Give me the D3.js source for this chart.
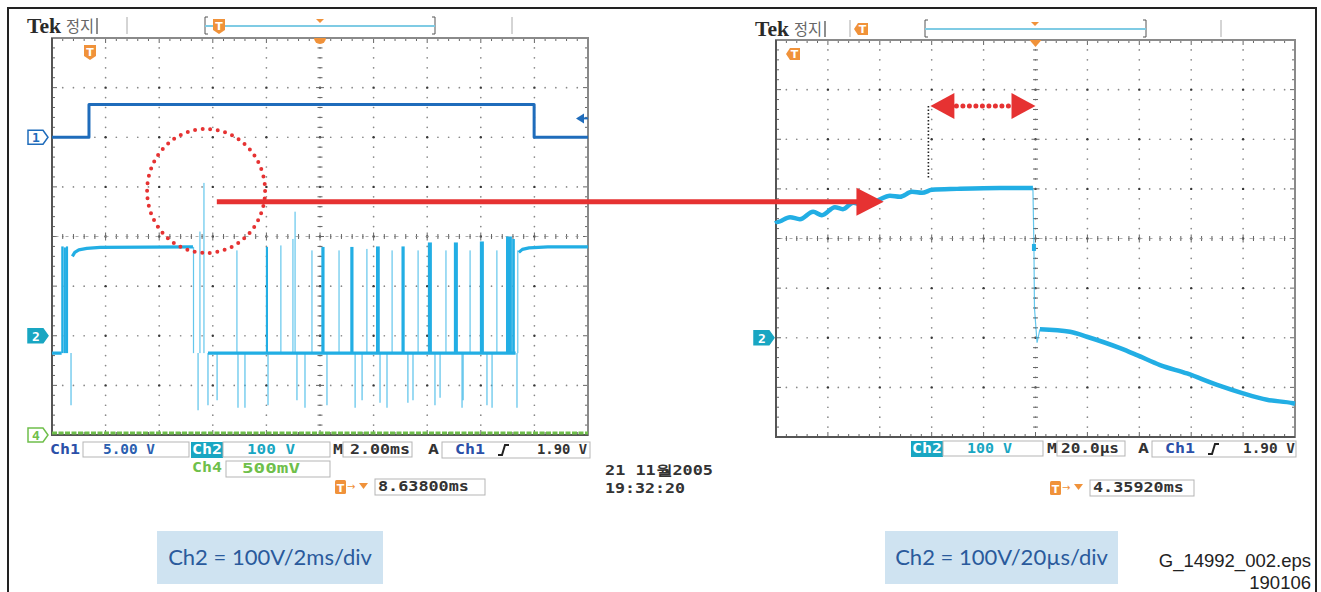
<!DOCTYPE html>
<html><head><meta charset="utf-8">
<script src="https://cdn.jsdelivr.net/npm/d3@7"></script>
<style>
body{margin:0;background:#fff;}
svg{display:block;}
</style></head><body>
<svg id="c" width="1321" height="592"></svg>
<script>
// ================= DATA =================
// Left scope (time in ms, 2 ms/div)
const ch1Time  = [0, 1.38, 1.38, 17.99, 17.99, 20];
const ch1Volts = [0, 0, 3.3, 3.3, 0, 0];
const ch4Time  = [0, 20];
const ch4Volts = [0.02, 0.02];
// Ch2 steady levels (null = gap)
const ch2BaseTime  = [0, 0.36, null, 0.76, 0.85, 1.0, 1.3, 1.8, 5.26, null, 5.82, 17.3, null, 17.42, 17.55, 17.8, 18.5, 20];
const ch2BaseVolts = [-35, -35, null, 160, 168, 173, 176, 178, 179, null, -35, -35, null, 168, 174, 177, 179, 179];
// Ch2 switching pulses (time ms, top V, width ms; 0 = thin ringing line)
const ch2PulseTime  = [0.39, 0.48, 0.56, 5.28, 5.52, 5.67, 6.90, 8.02, 8.54, 8.99, 9.07, 9.70, 10.11, 10.71, 11.19, 11.75, 12.16, 12.69, 13.10, 13.66, 14.10, 14.70, 15.07, 15.60, 16.04, 16.60, 17.05, 17.22, 17.38];
const ch2PulseTop   = [180, 178, 180, 179, 210, 308, 172, 179, 182, 195, 250, 172, 179, 172, 179, 175, 180, 172, 180, 172, 188, 172, 188, 172, 190, 172, 200, 195, 172];
const ch2PulseWidth = [0.09, 0.08, 0.08, 0, 0, 0, 0, 0.08, 0, 0, 0, 0, 0.12, 0, 0.12, 0, 0.14, 0, 0.12, 0, 0.15, 0, 0.15, 0, 0.15, 0, 0.22, 0.1, 0];
// Ch2 negative ringing spikes (time ms, bottom V)
const ch2SpikeTime  = [0.71, 5.45, 5.82, 6.16, 6.94, 7.20, 8.06, 9.14, 9.44, 10.26, 11.31, 11.57, 12.24, 12.50, 13.28, 13.47, 14.29, 14.48, 15.30, 15.34, 16.23, 16.42, 17.35];
const ch2SpikeVolts = [-140, -150, -140, -130, -145, -145, -140, -130, -145, -140, -145, -130, -135, -145, -135, -130, -140, -125, -145, -130, -140, -145, -145];

// Right scope (time in µs, 20 µs/div)
const zoomPreTime   = [0, 0.4, 5.4, 9.2, 14.3, 17.7, 22.7, 25.8, 29.7, 33.5, 38.9, 43.9, 47.8, 52.4, 56.3, 60.1, 69.8, 86.3, 99.0];
const zoomPreVolts  = [236, 233, 243, 239, 254, 247, 263, 259, 272, 268, 276, 286, 284, 294, 292, 298, 300, 302, 302];
const zoomDropTime  = [99.0, 99.4, 99.6, 100.6, 101.7];
const zoomDropVolts = [302, 183, 60, -10, 17];
const zoomPostTime  = [101.7, 113.3, 119.8, 132.6, 139.1, 148.0, 158.4, 170.0, 180.0, 189.2, 199.2, 200];
const zoomPostVolts = [17, 12, 2, -21, -35, -55, -72, -95, -112, -125, -132, -133];

// Readout texts
const leftReadout  = {ch1: "5.00 V", ch2: "100 V", ch4: "500mV", time: "2.00ms", trig: "1.90 V", delay: "8.63800ms"};
const rightReadout = {ch2: "100 V", time: "20.0µs", trig: "1.90 V", delay: "4.35920ms"};
const labels = ["Ch2 = 100V/2ms/div", "Ch2 = 100V/20µs/div"];

// ================= DRAW =================
const svg = d3.select("#c");
const C1 = "#1f6cbb", C2 = "#22aee4", C4 = "#6fbf4b", OR = "#f0923a", RED = "#e63232", TEAL = "#19a6c2";
const MONO = "'DejaVu Sans Mono', monospace";

// outer frame
svg.append("path").attr("d", "M8,600 V8 H1316 V600").attr("fill", "none").attr("stroke", "#222").attr("stroke-width", 2);

function scope(x0, x1, y0, y1) {
  const xd = d3.scaleLinear().domain([0, 10]).range([x0, x1]);
  const yd = d3.scaleLinear().domain([-4, 4]).range([y1, y0]);
  const g = svg.append("g");
  const dots = [];
  for (let i = 1; i < 10; i++) for (let j = 1; j < 40; j++) dots.push([xd(i), yd(-4 + j / 5), j % 5 === 0]);
  for (let k = -3; k <= 3; k++) for (let m = 1; m < 50; m++) if (m % 5) dots.push([xd(m / 5), yd(k), false]);
  g.selectAll(".d").data(dots).enter().append("circle")
    .attr("cx", d => d[0]).attr("cy", d => d[1]).attr("r", d => d[2] ? 1.2 : 0.85)
    .attr("fill", d => d[2] ? "#333" : "#888");
  const tk = [];
  for (let m = 1; m < 50; m++) tk.push([xd(m / 5), yd(0) - (m % 5 ? 2.5 : 4), xd(m / 5), yd(0) + (m % 5 ? 2.5 : 4)]);
  for (let j = 1; j < 40; j++) tk.push([xd(5) - (j % 5 ? 2.5 : 4), yd(-4 + j / 5), xd(5) + (j % 5 ? 2.5 : 4), yd(-4 + j / 5)]);
  for (let m = 1; m < 50; m++) { tk.push([xd(m / 5), y0, xd(m / 5), y0 + (m % 5 ? 3 : 5)]); tk.push([xd(m / 5), y1, xd(m / 5), y1 - (m % 5 ? 3 : 5)]); }
  for (let j = 1; j < 40; j++) { tk.push([x0, yd(-4 + j / 5), x0 + (j % 5 ? 3 : 5), yd(-4 + j / 5)]); tk.push([x1, yd(-4 + j / 5), x1 - (j % 5 ? 3 : 5), yd(-4 + j / 5)]); }
  g.selectAll(".t").data(tk).enter().append("line")
    .attr("x1", d => d[0]).attr("y1", d => d[1]).attr("x2", d => d[2]).attr("y2", d => d[3])
    .attr("stroke", "#666").attr("stroke-width", 1);
  g.append("line").attr("x1", x0).attr("x2", x1).attr("y1", yd(0)).attr("y2", yd(0))
    .attr("stroke", "#999").attr("stroke-width", 0.8).attr("stroke-dasharray", "3,7").attr("stroke-dashoffset", -3.5);
  g.append("rect").attr("x", x0).attr("y", y0).attr("width", x1 - x0).attr("height", y1 - y0)
    .attr("fill", "none").attr("stroke", "#8a8a8a").attr("stroke-width", 2);
  g.append("path").attr("d", `M${x0},${y0} V${y1} H${x1}`).attr("fill", "none").attr("stroke", "#555").attr("stroke-width", 2);
  return {xd, yd};
}

// ---------- left scope ----------
const L = scope(52, 588, 38, 435);
const xL = d3.scaleLinear().domain([0, 20]).range([52, 588]);
const y1 = d3.scaleLinear().domain([-30, 10]).range([435, 38]);
const y2 = d3.scaleLinear().domain([-200, 600]).range([435, 38]);
const y4 = d3.scaleLinear().domain([0, 4]).range([435, 38]);

const lineL = (ys) => d3.line().defined(d => d[0] !== null).x(d => xL(d[0])).y(d => ys(d[1]));
svg.append("path").datum(ch4Time.map((t, i) => [t, ch4Volts[i]]))
  .attr("d", lineL(y4)).attr("fill", "none").attr("stroke", C4).attr("stroke-width", 3.2).attr("stroke-dasharray", "5,1.5");
svg.append("path").datum(ch1Time.map((t, i) => [t, ch1Volts[i]]))
  .attr("d", lineL(y1)).attr("fill", "none").attr("stroke", C1).attr("stroke-width", 3).attr("stroke-linejoin", "round");
svg.append("g").selectAll("line").data(ch2SpikeTime.map((t, i) => [t, ch2SpikeVolts[i]])).enter().append("line")
  .attr("x1", d => xL(d[0])).attr("x2", d => xL(d[0])).attr("y1", y2(-35)).attr("y2", d => y2(d[1]))
  .attr("stroke", C2).attr("stroke-width", 1.2).attr("opacity", 0.75);
svg.append("g").selectAll("rect").data(ch2PulseTime.map((t, i) => [t, ch2PulseTop[i], ch2PulseWidth[i]])).enter().append("rect")
  .attr("x", d => d[2] ? xL(d[0] - d[2] / 2) : xL(d[0]) - 0.6)
  .attr("width", d => d[2] ? xL(d[2]) - xL(0) : 1.2)
  .attr("y", d => y2(d[1])).attr("height", d => y2(-35) - y2(d[1]))
  .attr("fill", C2).attr("opacity", d => d[2] ? 1 : 0.7);
svg.append("path").datum(ch2BaseTime.map((t, i) => [t, ch2BaseVolts[i]]))
  .attr("d", lineL(y2)).attr("fill", "none").attr("stroke", C2).attr("stroke-width", 3.2).attr("stroke-linejoin", "round");

// ---------- right scope ----------
const R = scope(776, 1295, 40, 437);
const xR = d3.scaleLinear().domain([0, 200]).range([776, 1295]);
const yR = d3.scaleLinear().domain([-200, 600]).range([437, 40]);
const lineR = d3.line().x(d => xR(d[0])).y(d => yR(d[1])).curve(d3.curveMonotoneX);
const lineRs = d3.line().x(d => xR(d[0])).y(d => yR(d[1]));
svg.append("path").datum(zoomDropTime.map((t, i) => [t, zoomDropVolts[i]]))
  .attr("d", lineRs).attr("fill", "none").attr("stroke", C2).attr("stroke-width", 1.2).attr("opacity", 0.7);
svg.append("rect").attr("x", xR(zoomDropTime[1]) - 2).attr("y", yR(zoomDropVolts[1]) - 3).attr("width", 4).attr("height", 7).attr("fill", C2);
svg.append("path").datum(zoomPreTime.map((t, i) => [t, zoomPreVolts[i]]))
  .attr("d", lineR).attr("fill", "none").attr("stroke", C2).attr("stroke-width", 4.5).attr("stroke-linejoin", "round");
svg.append("path").datum(zoomPostTime.map((t, i) => [t, zoomPostVolts[i]]))
  .attr("d", lineR).attr("fill", "none").attr("stroke", C2).attr("stroke-width", 4.5).attr("stroke-linejoin", "round");

// ---------- headers ----------
function tIcon(x, y, pointLeft) {
  const g = svg.append("g").attr("transform", `translate(${x},${y})`);
  if (pointLeft) g.append("path").attr("d", "M-4,0 L0,-6 H10 V6 H0 Z").attr("fill", OR);
  else g.append("path").attr("d", "M-6,-7 H6 V4 L0,8 L-6,4 Z").attr("fill", OR);
  g.append("text").attr("x", pointLeft ? 4.5 : 0).attr("y", 4).attr("text-anchor", "middle")
    .attr("font-family", "DejaVu Sans").attr("font-weight", "bold").attr("font-size", 11).attr("fill", "#fff").text("T");
}
function header(x, y, lineX1, brX0, brX1, trigX, iconX, iconLeft, sep2) {
  svg.append("text").attr("x", x).attr("y", y).attr("font-family", "Liberation Serif").attr("font-weight", "bold")
    .attr("font-size", 21).attr("fill", "#2a2a2a").attr("textLength", 34).attr("lengthAdjust", "spacingAndGlyphs").text("Tek");
  svg.append("text").attr("x", x + 39).attr("y", y - 1).attr("font-family", "Noto Sans CJK KR").attr("font-size", 16)
    .attr("fill", "#666").attr("textLength", 28).attr("lengthAdjust", "spacingAndGlyphs").text("정지");
  svg.append("line").attr("x1", x + 70).attr("x2", x + 70).attr("y1", y - 15).attr("y2", y + 1).attr("stroke", "#444").attr("stroke-width", 1.2);
  svg.append("line").attr("x1", lineX1).attr("x2", lineX1).attr("y1", y - 16).attr("y2", y + 1).attr("stroke", "#aaa");
  svg.append("line").attr("x1", sep2).attr("x2", sep2).attr("y1", y - 16).attr("y2", y + 1).attr("stroke", "#aaa");
  svg.append("path").attr("d", `M${brX0 + 3},${y - 16} H${brX0} V${y + 1} H${brX0 + 3}`).attr("fill", "none").attr("stroke", "#555");
  svg.append("path").attr("d", `M${brX1 - 3},${y - 16} H${brX1} V${y + 1} H${brX1 - 3}`).attr("fill", "none").attr("stroke", "#555");
  svg.append("line").attr("x1", brX0).attr("x2", brX1).attr("y1", y - 7).attr("y2", y - 7).attr("stroke", "#7fcbe4").attr("stroke-width", 2);
  svg.append("path").attr("d", `M${trigX - 4},${y - 14} H${trigX + 4} L${trigX},${y - 10} Z`).attr("fill", OR);
  tIcon(iconX, y - 7, iconLeft);
}
header(27, 33, 127, 205, 435, 320, 219, false, 512);
header(755, 36, 850, 925, 1146, 1035, 858, true, 1221);
svg.append("path").attr("d", `M${xL(10) - 6},38 A6,6 0 0 0 ${xL(10) + 6},38 Z`).attr("fill", OR);
svg.append("path").attr("d", `M${xR(100) - 6},40 L${xR(100) + 6},40 L${xR(100)},47 Z`).attr("fill", OR);
tIcon(90, 52, false);
tIcon(790, 54, true);

function chMarker(x, y, label, color, filled) {
  const g = svg.append("g").attr("transform", `translate(${x},${y})`);
  g.append("path").attr("d", "M0,-7 H15 L20,0 L15,7 H0 Z").attr("fill", filled ? color : "#fff")
    .attr("stroke", color).attr("stroke-width", 1.5);
  g.append("text").attr("x", 8).attr("y", 5).attr("text-anchor", "middle").attr("font-family", MONO)
    .attr("font-weight", "bold").attr("font-size", 13).attr("fill", filled ? "#fff" : color).text(label);
}
chMarker(28, y1(0), "1", C1, false);
chMarker(28, y2(0), "2", TEAL, true);
chMarker(28, y4(0), "4", C4, false);
chMarker(754, yR(0), "2", TEAL, true);
svg.append("path").attr("d", `M576,${y1(1.9)} L584,${y1(1.9) - 5} V${y1(1.9) + 5} Z`).attr("fill", C1);
svg.append("line").attr("x1", 582).attr("x2", 588).attr("y1", y1(1.9)).attr("y2", y1(1.9)).attr("stroke", C1).attr("stroke-width", 2);

// ---------- readouts ----------
function box(x, y, w, h) { svg.append("rect").attr("x", x).attr("y", y).attr("width", w).attr("height", h).attr("fill", "#fff").attr("stroke", "#b5b5b5"); }
function t(x, y, s, col, len, anchor) {
  const e = svg.append("text").attr("x", x).attr("y", y).attr("font-family", MONO).attr("font-weight", "bold")
    .attr("font-size", 14).attr("fill", col).attr("text-anchor", anchor || "start").text(s);
  if (len) e.attr("textLength", len).attr("lengthAdjust", "spacingAndGlyphs");
  return e;
}
function hiCh2(x, y) {
  svg.append("rect").attr("x", x).attr("y", y - 12).attr("width", 32).attr("height", 16).attr("fill", TEAL);
  t(x + 1, y, "Ch2", "#fff", 30);
}
function trigBox(x, y, w) {
  box(x, y - 12, w, 16);
  t(x + 13, y, "Ch1", "#2b4fa8", 30);
  svg.append("path").attr("d", `M${x + 56},${y + 1} H${x + 60} L${x + 63},${y - 9} H${x + 67}`).attr("fill", "none").attr("stroke", "#222").attr("stroke-width", 2);
}
function delayRow(x, y, w, s) {
  svg.append("rect").attr("x", x).attr("y", y - 11).attr("width", 11).attr("height", 14).attr("rx", 1.5).attr("fill", OR);
  svg.append("text").attr("x", x + 5.5).attr("y", y + 1).attr("text-anchor", "middle").attr("font-family", "DejaVu Sans")
    .attr("font-weight", "bold").attr("font-size", 11).attr("fill", "#fff").text("T");
  svg.append("text").attr("x", x + 12).attr("y", y - 1).attr("font-family", "DejaVu Sans").attr("font-size", 10).attr("fill", OR).text("→");
  svg.append("path").attr("d", `M${x + 24},${y - 8} H${x + 33} L${x + 28.5},${y - 2} Z`).attr("fill", OR);
  box(x + 40, y - 12, w, 16);
  t(x + 43, y, s, "#333", s.length * 10.1);
}
t(50, 454, "Ch1", "#2b4fa8", 30);
box(83, 442, 106, 15); t(103, 454, leftReadout.ch1, "#2b5fb0", 52);
hiCh2(191, 454);
box(223, 442, 107, 15); t(247, 454, leftReadout.ch2, TEAL, 48);
t(333, 454, "M", "#333", 10);
box(343, 442, 69, 15); t(350, 454, leftReadout.time, "#333", 60);
t(428, 454, "A", "#333", 11);
trigBox(442, 454, 148); t(587, 454, leftReadout.trig, "#333", 50, "end");
t(192, 472, "Ch4", C4, 30);
box(226, 461, 104, 16); t(242, 473, leftReadout.ch4, C4, 58);
delayRow(335, 491, 110, leftReadout.delay);
t(605, 475, "21 11월2005", "#333", 108);
t(605, 493, "19:32:20", "#333", 80);
hiCh2(911, 453);
box(943, 441, 100, 15); t(967, 453, rightReadout.ch2, TEAL, 45);
t(1047, 453, "M", "#333", 10);
box(1057, 441, 68, 15); t(1061, 453, rightReadout.time, "#333", 58);
t(1138, 453, "A", "#333", 11);
trigBox(1152, 453, 144); t(1295, 453, rightReadout.trig, "#333", 52, "end");
delayRow(1050, 492, 104, rightReadout.delay);

// ---------- annotations ----------
svg.append("ellipse").attr("cx", xL(5.75)).attr("cy", 191).attr("rx", 59).attr("ry", 62)
  .attr("fill", "none").attr("stroke", RED).attr("stroke-width", 4).attr("stroke-linecap", "round").attr("stroke-dasharray", "0,7.6");
const ay = y2(270);
svg.append("line").attr("x1", xL(6.15)).attr("x2", xR(32)).attr("y1", ay).attr("y2", ay).attr("stroke", RED).attr("stroke-width", 5);
svg.append("path").attr("d", `M${xR(31)},${ay - 14} L${xR(41.5)},${ay} L${xR(31)},${ay + 14} Z`).attr("fill", RED);
const my = 106, mx0 = xR(59.5), mx1 = xR(100);
svg.append("line").attr("x1", mx0 - 2).attr("x2", mx0 - 2).attr("y1", my).attr("y2", 178)
  .attr("stroke", "#222").attr("stroke-width", 1.6).attr("stroke-dasharray", "1.5,2");
svg.append("path").attr("d", `M${mx0 + 24},${my - 13} L${mx0},${my} L${mx0 + 24},${my + 13} Z`).attr("fill", RED);
svg.append("path").attr("d", `M${mx1 - 24},${my - 13} L${mx1},${my} L${mx1 - 24},${my + 13} Z`).attr("fill", RED);
svg.append("line").attr("x1", mx0 + 26).attr("x2", mx1 - 24).attr("y1", my).attr("y2", my).attr("stroke", RED)
  .attr("stroke-width", 5).attr("stroke-linecap", "round").attr("stroke-dasharray", "0,6.5");

// ---------- labels ----------
[[157, 383, labels[0]], [885, 1118, labels[1]]].forEach(([a, b, s]) => {
  svg.append("rect").attr("x", a).attr("y", 531).attr("width", b - a).attr("height", 53).attr("fill", "#cfe3f1");
  svg.append("text").attr("x", (a + b) / 2).attr("y", 565).attr("text-anchor", "middle").attr("font-family", "Lato, 'Open Sans', sans-serif")
    .attr("font-size", 22).attr("fill", "#2a5a9c").text(s);
});
svg.append("text").attr("x", 1311).attr("y", 567).attr("text-anchor", "end").attr("font-family", "Liberation Sans").attr("font-size", 18.5).attr("fill", "#222").text("G_14992_002.eps");
svg.append("text").attr("x", 1311).attr("y", 589).attr("text-anchor", "end").attr("font-family", "Liberation Sans").attr("font-size", 18.5).attr("fill", "#222").text("190106");
</script>
</body></html>
